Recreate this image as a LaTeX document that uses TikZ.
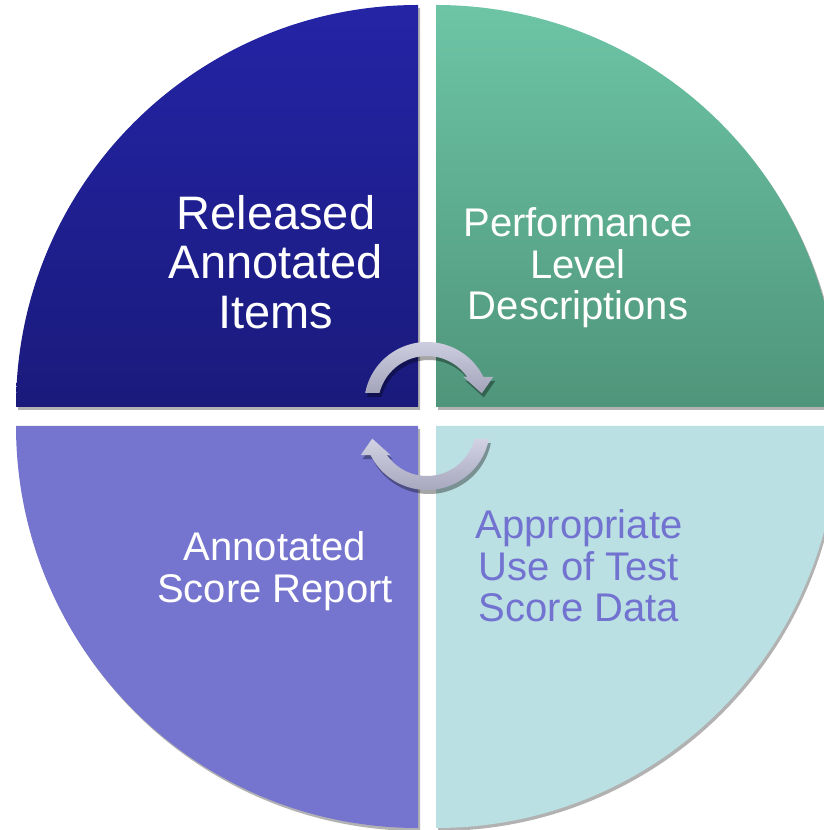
\documentclass[tikz,border=0pt]{standalone}
\usepackage{fontspec}
\setmainfont{Liberation Sans}
\usetikzlibrary{shadows}
\pgfdeclarelayer{edgelayer}
\pgfdeclarelayer{nodelayer}
\pgfsetlayers{edgelayer,main,nodelayer}
\definecolor{navytop}{HTML}{2424A6}
\definecolor{navybot}{HTML}{1A1A7C}
\definecolor{greentop}{HTML}{6DC5A6}
\definecolor{greenbot}{HTML}{4F957B}
\definecolor{violet}{HTML}{7575CF}
\definecolor{paleblue}{HTML}{BAE0E3}
\definecolor{scoretext}{HTML}{7272D0}
\definecolor{arrowtop}{HTML}{D2D2E4}
\definecolor{arrowbot}{HTML}{A3A3BA}
\tikzstyle{quarter}=[drop shadow={shadow xshift=2pt,shadow yshift=-3pt,opacity=0.3,fill=black}]
\tikzstyle{cyclearrow}=[top color=arrowtop,bottom color=arrowbot,drop shadow={shadow xshift=2pt,shadow yshift=-4pt,opacity=0.35,fill=black}]
\tikzstyle{segtext}=[align=center,text=white,inner sep=0pt,font=\fontsize{40}{41.5}\selectfont]

\begin{document}
\begin{tikzpicture}[x=1pt,y=1pt]
	\useasboundingbox (0,0) rectangle (824,830);
	\begin{pgfonlayer}{edgelayer}
		\path [style=quarter,top color=navytop,bottom color=navybot] (418,423) -- (16,423) arc (180:90:402pt) -- cycle;
		\path [style=quarter,top color=greentop,bottom color=greenbot] (436,423) -- (436,825) arc (90:0:402pt) -- cycle;
		\path [style=quarter,fill=violet] (418,404) -- (16,404) arc (180:270:402pt) -- cycle;
		\path [style=quarter,fill=paleblue] (436,404) -- (838,404) arc (0:-90:402pt) -- cycle;
	\end{pgfonlayer}
	\begin{pgfonlayer}{nodelayer}
		\node [style=segtext,font=\fontsize{47}{49.5}\selectfont] (0) at (276,568) {Released\\Annotated\\Items};
		\node [style=segtext] (1) at (578,562) {Performance\\Level\\Descriptions};
		\node [style=segtext] (2) at (275,259) {Annotated\\Score Report};
		\node [style=segtext,text=scoretext] (3) at (579,264) {Appropriate\\Use of Test\\Score Data};
	\end{pgfonlayer}
	% the two turning arrows in the middle
	\begin{scope}[shift={(427,425)}]
		\path [style=cyclearrow] (169:63pt) arc (169:26.4:63pt) -- (23:72pt) -- (12:56pt) -- (38:46pt) -- (34.8:49pt) arc (34.8:165.8:49pt) -- cycle;
	\end{scope}
	\begin{scope}[shift={(427,403)}]
		\path [style=cyclearrow] (349:63pt) arc (349:206.4:63pt) -- (203:72pt) -- (192:56pt) -- (218:46pt) -- (214.8:49pt) arc (214.8:345.8:49pt) -- cycle;
	\end{scope}
\end{tikzpicture}
\end{document}
